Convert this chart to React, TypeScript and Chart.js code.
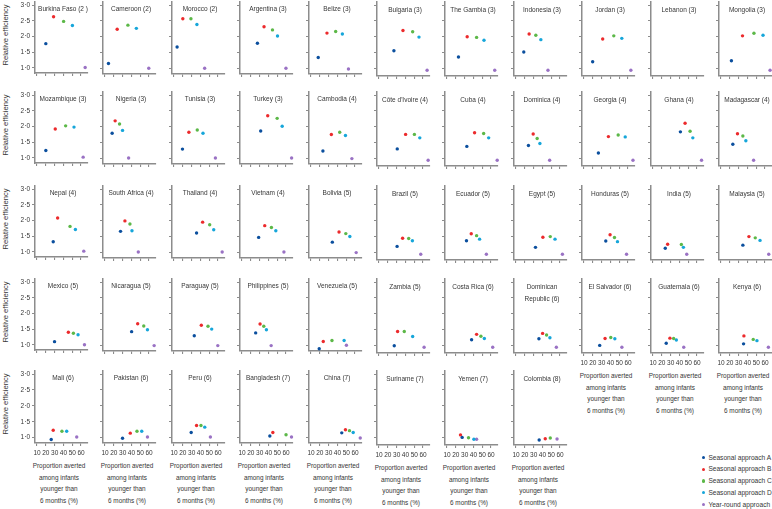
import React, { useEffect, useRef } from "react";
import { Chart, registerables } from "chart.js";

Chart.register(...registerables);

// ---------------- data ----------------
const PANEL_TITLES: string[] = [
  "Burkina Faso (2 )", "Cameroon (2)", "Morocco (2)", "Argentina (3)", "Belize (3)", "Bulgaria (3)", "The Gambia (3)", "Indonesia (3)", "Jordan (3)", "Lebanon (3)", "Mongolia (3)",
  "Mozambique (3)", "Nigeria (3)", "Tunisia (3)", "Turkey (3)", "Cambodia (4)", "Côte d'Ivoire (4)", "Cuba (4)", "Dominica (4)", "Georgia (4)", "Ghana (4)", "Madagascar (4)",
  "Nepal (4)", "South Africa (4)", "Thailand (4)", "Vietnam (4)", "Bolivia (5)", "Brazil (5)", "Ecuador (5)", "Egypt (5)", "Honduras (5)", "India (5)", "Malaysia (5)",
  "Mexico (5)", "Nicaragua (5)", "Paraguay (5)", "Philippines (5)", "Venezuela (5)", "Zambia (5)", "Costa Rica (6)", "Dominican\nRepublic (6)", "El Salvador (6)", "Guatemala (6)", "Kenya (6)",
  "Mali (6)", "Pakistan (6)", "Peru (6)", "Bangladesh (7)", "China (7)", "Suriname (7)", "Yemen (7)", "Colombia (8)",
];

type V = number | null;

// Seasonal approach A
const A_X: V[] = [20, 13.9, 13.5, 27.5, 18.2, 26.9, 23, 18.8, 19.8, null, 21.8,
  20, 18.1, 19.6, 31.2, 23.5, 30.7, 32.5, 24.1, 26.3, 41.1, 23.4,
  28.4, 27.6, 35.6, 28.9, 34.2, 30.5, 32.1, 32.1, 34.7, 23.9, 34.8,
  29.9, 40.2, 33, 25.5, 19.3, 27.3, 37.9, 36, 27.8, 25, 35.6,
  26.1, 29.9, 29.5, 41.6, 44.9, null, 27.2, 36.3];
const A_Y: V[] = [1.77, 1.16, 1.68, 1.80, 1.35, 1.56, 1.36, 1.52, 1.21, null, 1.24,
  1.23, 1.80, 1.30, 1.87, 1.24, 1.30, 1.38, 1.41, 1.17, 1.84, 1.45,
  1.32, 1.67, 1.62, 1.48, 1.33, 1.19, 1.37, 1.16, 1.36, 1.13, 1.23,
  1.10, 1.44, 1.31, 1.40, 0.90, 0.99, 1.18, 1.21, 1.00, 1.07, 1.05,
  0.94, 0.98, 1.16, 1.05, 1.15, null, 1.00, 0.92];

// Seasonal approach B
const B_X: V[] = [28.8, 23.8, 20, 35, 28.1, 37.2, 32.9, 24.9, 31.2, null, 34.4,
  30.7, 21.5, 26.9, 39.2, 33.1, 40.2, 41.3, 29.5, 37.7, 46.4, 28.7,
  33.4, 32.6, 42.5, 35.8, 41.8, 36.8, 37.5, 40.5, 39.6, 26.6, 41.7,
  45.6, 47.1, 41, 30.5, 23.9, 31.1, 43.6, 40.2, 33.9, 29.2, 36,
  28.4, 38.7, 35.6, 45, 49.1, null, 25.3, 43.2];
const B_Y: V[] = [2.63, 2.24, 2.57, 2.32, 2.12, 2.20, 2.00, 2.09, 1.93, null, 2.03,
  1.92, 2.19, 1.83, 2.35, 1.76, 1.76, 1.81, 1.77, 1.69, 2.11, 1.78,
  2.08, 2.00, 1.96, 1.85, 1.65, 1.45, 1.59, 1.48, 1.56, 1.26, 1.50,
  1.40, 1.69, 1.64, 1.68, 1.13, 1.44, 1.35, 1.38, 1.22, 1.23, 1.30,
  1.23, 1.14, 1.38, 1.16, 1.25, null, 1.08, 0.96];

// Seasonal approach C
const C_X: V[] = [40.2, 36, 29.2, 44.6, 38, 48.2, 43.6, 32.5, 43.8, null, 47.4,
  42.5, 26.5, 36.4, 49.9, 42.6, 50.2, 51.6, 34, 48.8, 52.1, 34.8,
  47.5, 38.3, 50.5, 43.4, 49.5, 43.7, 43.6, 48.9, 44.6, 42.2, 48.9,
  51.3, 54, 48.6, 34.7, 33.8, 38.7, 48.5, 44.7, 40.4, 33.4, 46.6,
  38.3, 46.3, 40.6, 60, 53.7, null, 34.4, 48.9];
const C_Y: V[] = [2.48, 2.37, 2.57, 2.22, 2.17, 2.16, 1.98, 2.05, 2.03, null, 2.11,
  2.02, 2.09, 1.90, 2.27, 1.83, 1.76, 1.79, 1.63, 1.74, 1.86, 1.71,
  1.81, 1.90, 1.88, 1.79, 1.60, 1.44, 1.53, 1.50, 1.47, 1.25, 1.46,
  1.37, 1.62, 1.61, 1.61, 1.16, 1.44, 1.29, 1.33, 1.25, 1.22, 1.19,
  1.20, 1.20, 1.38, 1.09, 1.22, null, 0.99, 0.98];

// Seasonal approach D
const D_X: V[] = [50.2, 45.6, 36, 50.3, 45.6, 55.4, 52, 38.2, 52.9, null, 57.7,
  52, 29.9, 42.9, 55.6, 49.1, 56.3, 57.3, 37.1, 56.8, 55.2, 38.2,
  53.6, 40.6, 55.1, 48.4, 54.1, 47.9, 47, 54.3, 48, 44.5, 54.3,
  56.6, 58.2, 52.8, 37.7, 47.6, 48.2, 52.4, 48.5, 45, 36.5, 50.8,
  43.7, 51.7, 44.9, null, 57.9, null, 40.5, null];
const D_Y: V[] = [2.35, 2.27, 2.39, 2.03, 2.09, 1.99, 1.89, 1.91, 1.95, null, 2.05,
  1.98, 1.89, 1.80, 2.02, 1.73, 1.65, 1.65, 1.47, 1.68, 1.65, 1.56,
  1.71, 1.69, 1.72, 1.69, 1.51, 1.37, 1.42, 1.42, 1.34, 1.16, 1.38,
  1.32, 1.50, 1.52, 1.50, 1.16, 1.28, 1.22, 1.24, 1.21, 1.17, 1.15,
  1.20, 1.20, 1.33, null, 1.16, null, 0.94, null];

// Year-round approach
const Y_X: V[] = [64.7, 59.7, 44.8, 59.9, 52.5, 64.6, 64.2, 46.3, 63.2, null, 65.7,
  62.4, 36.8, 57, 66.3, 56.4, 65.8, 67, 48.2, 65.6, 65.1, 47,
  63.1, 47.8, 64.7, 57.6, 61.3, 57.4, 54.7, 62.7, 58.3, 48.3, 64.2,
  63.9, 65.8, 59.7, 43.1, 50.2, 61.2, 61.9, 55.8, 53, 44.9, 63.8,
  55.1, 58.2, 51.3, 66.2, 65.9, null, 43.6, 56.6];
const Y_Y: V[] = [1.01, 1.01, 1.01, 1.01, 0.99, 0.94, 0.94, 0.94, 0.94, null, 0.94,
  1.02, 1.02, 1.02, 1.02, 1.00, 0.94, 0.94, 0.94, 0.94, 0.94, 0.94,
  1.02, 1.02, 1.02, 1.02, 1.00, 0.94, 0.94, 0.94, 0.94, 0.94, 0.94,
  1.00, 1.00, 1.00, 1.00, 1.01, 0.94, 0.94, 0.94, 0.94, 0.94, 0.94,
  1.02, 1.02, 1.02, 1.02, 0.99, null, 0.94, 0.95];

const SERIES_NAMES = ["Seasonal approach A", "Seasonal approach B", "Seasonal approach C", "Seasonal approach D", "Year-round approach"];
const SERIES_COLORS = ["#0b4f9e", "#ec2a2c", "#5cb848", "#16a6da", "#9a72c4"];
const SERIES_X = [A_X, B_X, C_X, D_X, Y_X];
const SERIES_Y = [A_Y, B_Y, C_Y, D_Y, Y_Y];

const Y_TICKS = [1, 1.5, 2, 2.5, 3];
const X_TICKS = [10, 20, 30, 40, 50, 60];
const X_TITLE_LINES = ["Proportion averted", "among infants", "younger than", "6 months (%)"];
const Y_TITLE = "Relative efficiency";

// ---------------- style / layout ----------------
const FONT = "'Liberation Sans', Arial, sans-serif";
const TEXT = "#363636";
const AXIS = "#8c8c8c";
const COLS = 11;
const COL_X0 = 35;
const COL_STEP = 68.4;
const ROW_Y3 = [5.2, 95, 189.2, 281.7, 374];
const PXU = 31.5;
const Y_MAX = 3.1;
const PLOT_W = 53;
const X_MIN = 7.7;
const X_MAX = 67.9;
const PAD_TOP = 6;
const RIGHT_PAD = 3;
const LINE_H = 11.7;

function geom(index: number) {
  const row = Math.floor(index / COLS);
  const col = index % COLS;
  const showX = index >= 41;
  const axisX = Math.round(COL_X0 + COL_STEP * col);
  const yW = col === 0 ? 24 : 12;
  const yMin = col < 5 ? 0.83 : 0.76;
  const areaTop = Math.round(ROW_Y3[row] - (Y_MAX - 3) * PXU);
  const areaH = Math.round((Y_MAX - yMin) * PXU);
  const xH = showX ? 15 : 5;
  return {
    row, col, showX, axisX, yW, yMin, areaTop, areaH, xH,
    left: axisX - yW,
    top: areaTop - PAD_TOP,
    width: yW + PLOT_W + RIGHT_PAD,
    height: PAD_TOP + areaH + xH,
    xAxisY: areaTop + areaH,
  };
}

function fmtY(v: number) {
  return v.toFixed(1).replace(".", "\u00b7");
}

function Panel({ index }: { index: number }) {
  const ref = useRef<HTMLCanvasElement>(null);
  const g = geom(index);
  useEffect(() => {
    if (!ref.current) return;
    const lines = PANEL_TITLES[index].split("\n");
    const dy = (Y_MAX - 3) * PXU + (g.col < 5 ? 3.6 : 5.4);
    const titlePlugin = {
      id: "panelTitle",
      afterDraw(chart: any) {
        const { ctx, chartArea } = chart;
        ctx.save();
        ctx.font = `6.5px ${FONT}`;
        ctx.fillStyle = TEXT;
        ctx.textAlign = "center";
        ctx.textBaseline = "middle";
        lines.forEach((l, i) => ctx.fillText(l, chartArea.left + 28, chartArea.top + dy + i * LINE_H));
        ctx.restore();
      },
    };
    const datasets = SERIES_NAMES.map((name, k) => {
      const x = SERIES_X[k][index];
      const y = SERIES_Y[k][index];
      return {
        label: name,
        data: x != null && y != null ? [{ x, y }] : [],
        backgroundColor: SERIES_COLORS[k],
        borderWidth: 0,
        pointRadius: 1.7,
        pointHoverRadius: 1.7,
        clip: false as any,
      };
    });
    const tickFont = { family: FONT, size: 6.5 };
    const chart = new Chart(ref.current, {
      type: "scatter",
      data: { datasets },
      options: {
        animation: false,
        responsive: false,
        events: [],
        layout: { padding: { top: PAD_TOP, left: 0, right: RIGHT_PAD, bottom: 0 } },
        plugins: { legend: { display: false }, tooltip: { enabled: false }, title: { display: false } },
        scales: {
          x: {
            type: "linear",
            min: X_MIN,
            max: X_MAX,
            afterBuildTicks: (s: any) => { s.ticks = X_TICKS.map((v) => ({ value: v })); },
            afterFit: (s: any) => { s.height = g.xH; },
            border: { display: true, color: AXIS, width: 1.5 },
            grid: { display: true, drawOnChartArea: false, drawTicks: true, tickLength: 3, color: AXIS, lineWidth: 1.1 },
            ticks: { display: g.showX, font: tickFont, color: TEXT, padding: 3, maxRotation: 0, autoSkip: false, callback: (v: any) => String(v) },
          },
          y: {
            type: "linear",
            min: g.yMin,
            max: Y_MAX,
            afterBuildTicks: (s: any) => { s.ticks = Y_TICKS.map((v) => ({ value: v })); },
            afterFit: (s: any) => { s.width = g.yW; },
            border: { display: true, color: AXIS, width: 1.5 },
            grid: { display: true, drawOnChartArea: false, drawTicks: true, tickLength: 3, color: AXIS, lineWidth: 1.1 },
            ticks: { display: g.col === 0, font: tickFont, color: TEXT, padding: 2, callback: (v: any) => fmtY(Number(v)) },
          },
        },
      },
      plugins: [titlePlugin],
    } as any);
    return () => chart.destroy();
  }, [index]);
  return (
    <canvas
      ref={ref}
      width={g.width}
      height={g.height}
      style={{ position: "absolute", left: g.left, top: g.top, width: g.width, height: g.height }}
    />
  );
}

export default function App() {
  const xTitles = PANEL_TITLES.map((_, i) => i).filter((i) => geom(i).showX);
  return (
    <div style={{ position: "absolute", left: 0, top: 0, width: 772, height: 509, background: "#fff", overflow: "hidden", fontFamily: FONT, color: TEXT }}>
      {PANEL_TITLES.map((_, i) => <Panel key={i} index={i} />)}
      {ROW_Y3.map((y3, r) => (
        <div key={"yt" + r} style={{ position: "absolute", left: 4.5, top: y3 + 30, transform: "translate(-50%, -50%) rotate(-90deg)", whiteSpace: "nowrap", fontSize: 7.6, lineHeight: "9px" }}>
          {Y_TITLE}
        </div>
      ))}
      {xTitles.map((i) => {
        const g = geom(i);
        return X_TITLE_LINES.map((t, k) => (
          <div key={"xt" + i + "-" + k} style={{ position: "absolute", left: g.axisX + 24, top: g.xAxisY + 23 + k * LINE_H, transform: "translate(-50%, -50%)", whiteSpace: "nowrap", fontSize: 6.4, lineHeight: "8px" }}>
            {t}
          </div>
        ));
      })}
      {SERIES_NAMES.map((name, k) => (
        <div key={"lg" + k} style={{ position: "absolute", left: 701.5, top: 457.7 + k * LINE_H, transform: "translateY(-50%)", whiteSpace: "nowrap", fontSize: 6.6, lineHeight: "8px", display: "flex", alignItems: "center" }}>
          <span style={{ display: "inline-block", width: 3.4, height: 3.4, borderRadius: "50%", background: SERIES_COLORS[k], marginRight: 3.5 }} />
          {name}
        </div>
      ))}
    </div>
  );
}
